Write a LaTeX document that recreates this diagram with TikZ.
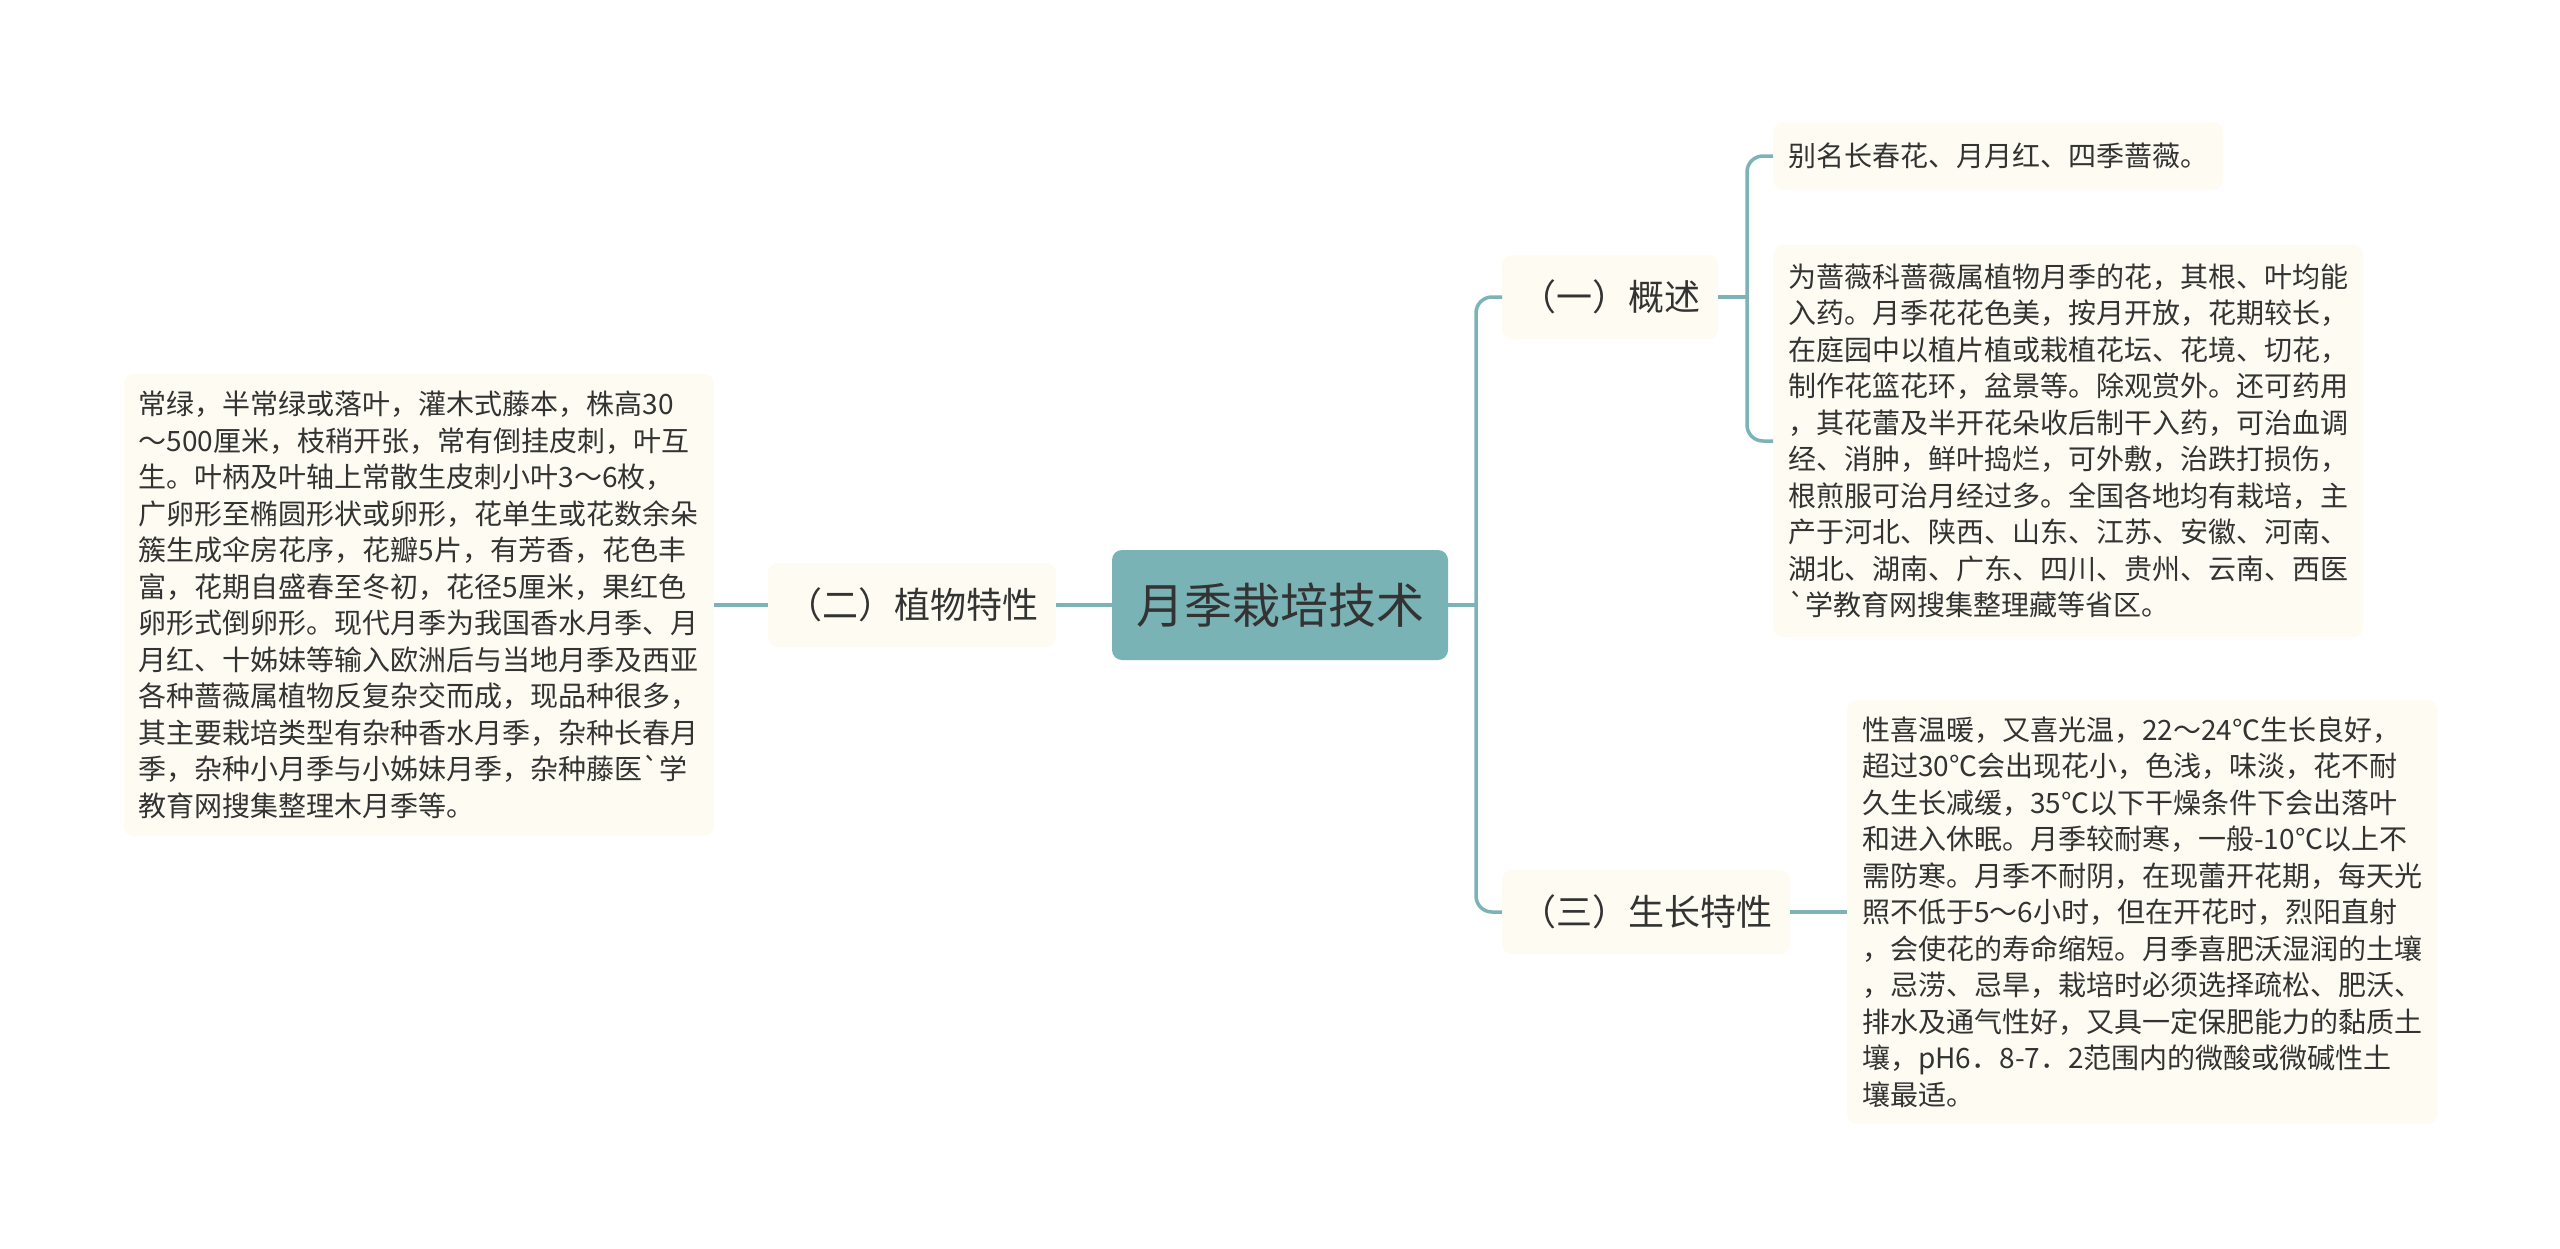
\documentclass[tikz,border=0pt]{standalone}
\usepackage{fontspec}
\setmainfont{Noto Sans CJK SC}
\definecolor{linkc}{HTML}{7DB3B6}
\definecolor{rootc}{HTML}{7AB3B5}
\definecolor{leafc}{HTML}{FDFBF2}
\definecolor{textc}{HTML}{333333}
\begin{document}
\begin{tikzpicture}[x=1pt,y=-1pt]
\tikzstyle{every node}+=[inner sep=0pt, text=textc]
\tikzstyle{root}=[fill=rootc, rounded corners=10pt, minimum width=336pt, minimum height=110pt, font=\fontsize{48}{56}\selectfont]
\tikzstyle{branch}=[fill=leafc, rounded corners=10pt, inner xsep=18pt, minimum height=84pt, font=\fontsize{36}{42}\selectfont]
\tikzstyle{leaf}=[fill=leafc, rounded corners=10pt, inner xsep=15pt, align=left, font=\fontsize{28}{36.5}\selectfont]
\tikzstyle{link}=[draw=linkc, line width=3.5pt]
\fill[white] (0,0) rectangle (2560,1248);
\useasboundingbox (0,0) rectangle (2560,1248);
\node[root] (root) at (1280,605) {月季栽培技术};
\node[branch] (b2) at (912,605) {（二）植物特性};
\node[branch, anchor=west] (b1) at (1502,297) {（一）概述};
\node[branch, anchor=west] (b3) at (1502,912) {（三）生长特性};
\node[leaf, anchor=east, minimum height=462pt] (l0) at (714,605) {常绿，半常绿或落叶，灌木式藤本，株高30\\
～500厘米，枝稍开张，常有倒挂皮刺，叶互\\
生。叶柄及叶轴上常散生皮刺小叶3～6枚，\\
广卵形至椭圆形状或卵形，花单生或花数余朵\\
簇生成伞房花序，花瓣5片，有芳香，花色丰\\
富，花期自盛春至冬初，花径5厘米，果红色\\
卵形式倒卵形。现代月季为我国香水月季、月\\
月红、十姊妹等输入欧洲后与当地月季及西亚\\
各种蔷薇属植物反复杂交而成，现品种很多，\\
其主要栽培类型有杂种香水月季，杂种长春月\\
季，杂种小月季与小姊妹月季，杂种藤医\textasciigrave 学\\
教育网搜集整理木月季等。};
\node[leaf, anchor=west, minimum height=67pt] (l1) at (1773,156) {别名长春花、月月红、四季蔷薇。};
\node[leaf, anchor=west, minimum height=392pt] (l2) at (1773,441) {为蔷薇科蔷薇属植物月季的花，其根、叶均能\\
入药。月季花花色美，按月开放，花期较长，\\
在庭园中以植片植或栽植花坛、花境、切花，\\
制作花篮花环，盆景等。除观赏外。还可药用\\
，其花蕾及半开花朵收后制干入药，可治血调\\
经、消肿，鲜叶捣烂，可外敷，治跌打损伤，\\
根煎服可治月经过多。全国各地均有栽培，主\\
产于河北、陕西、山东、江苏、安徽、河南、\\
湖北、湖南、广东、四川、贵州、云南、西医\\
\textasciigrave 学教育网搜集整理藏等省区。};
\node[leaf, anchor=west, minimum height=424pt] (l3) at (1847,912) {性喜温暖，又喜光温，22～24℃生长良好，\\
超过30℃会出现花小，色浅，味淡，花不耐\\
久生长减缓，35℃以下干燥条件下会出落叶\\
和进入休眠。月季较耐寒，一般-10℃以上不\\
需防寒。月季不耐阴，在现蕾开花期，每天光\\
照不低于5～6小时，但在开花时，烈阳直射\\
，会使花的寿命缩短。月季喜肥沃湿润的土壤\\
，忌涝、忌旱，栽培时必须选择疏松、肥沃、\\
排水及通气性好，又具一定保肥能力的黏质土\\
壤，pH6．8-7．2范围内的微酸或微碱性土\\
壤最适。};
\coordinate (jr) at (1476,605);
\coordinate (jt) at (1747,297);
\draw[link] (root.west) -- (b2.east);
\draw[link] (b2.west) -- (l0.east);
\draw[link] (root.east) -- (jr);
\draw[link, rounded corners=16pt] (b1.west) -| (jr) |- (b3.west);
\draw[link] (b1.east) -- (jt);
\draw[link, rounded corners=16pt] (l1.west) -| (jt) |- (l2.west);
\draw[link] (b3.east) -- (l3.west);
\end{tikzpicture}
\end{document}
